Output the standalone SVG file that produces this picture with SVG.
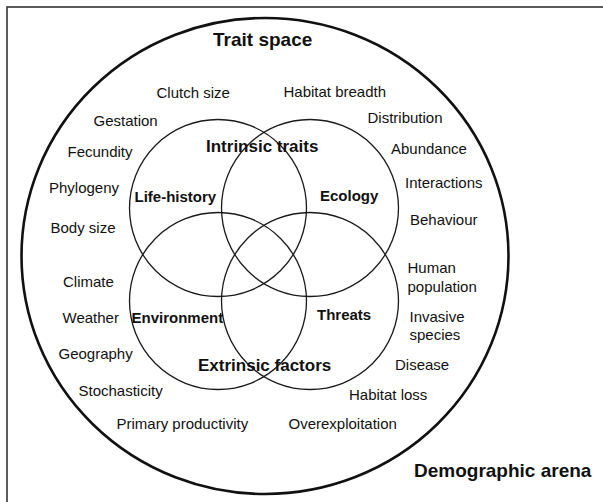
<svg xmlns="http://www.w3.org/2000/svg" width="603" height="502" viewBox="0 0 603 502">
  <style>
    .frame { fill: none; stroke: #333; stroke-width: 1.6; }
    .arena { fill: none; stroke: #111; stroke-width: 2.6; }
    .set { fill: none; stroke: #1a1a1a; stroke-width: 1.3; }
    text { font-family: "Liberation Sans", Arial, Helvetica, sans-serif; fill: #111; }
    .item { font-size: 15px; }
    .set-label { font-size: 15px; font-weight: bold; }
    .group-label { font-size: 17px; font-weight: bold; }
    .title { font-size: 19px; font-weight: bold; }
  </style>

  <rect width="603" height="502" fill="#fff"/>

  <!-- outer frame: the demographic arena -->
  <g id="demographic-arena">
    <rect class="frame" x="7" y="7" width="640" height="540"/>
    <text class="title" x="414" y="477">Demographic arena</text>
  </g>

  <!-- trait space -->
  <g id="trait-space">
    <ellipse class="arena" cx="265" cy="256" rx="243.5" ry="238"/>
    <text class="title" x="213" y="45.5">Trait space</text>
  </g>

  <!-- four overlapping trait sets -->
  <g id="life-history">
    <circle class="set" cx="218" cy="208" r="88.5"/>
    <text class="set-label" x="134.5" y="202">Life-history</text>
  </g>
  <g id="ecology">
    <circle class="set" cx="310" cy="208" r="88.5"/>
    <text class="set-label" x="320" y="201">Ecology</text>
  </g>
  <g id="environment">
    <circle class="set" cx="218" cy="301" r="88.5"/>
    <text class="set-label" x="131.5" y="323">Environment</text>
  </g>
  <g id="threats">
    <circle class="set" cx="310" cy="301" r="88.5"/>
    <text class="set-label" x="317" y="319.5">Threats</text>
  </g>

  <g id="intrinsic-traits">
    <text class="group-label" x="206" y="151.5">Intrinsic traits</text>
  </g>
  <g id="extrinsic-factors">
    <text class="group-label" x="198" y="371">Extrinsic factors</text>
  </g>

  <!-- example traits -->
  <g id="life-history-items" class="item">
    <text class="item" x="156.5" y="98">Clutch size</text>
    <text class="item" x="93.5" y="125.5">Gestation</text>
    <text class="item" x="67.5" y="156.5">Fecundity</text>
    <text class="item" x="49" y="192.5">Phylogeny</text>
    <text class="item" x="50.5" y="232.5">Body size</text>
  </g>
  <g id="ecology-items">
    <text class="item" x="283.5" y="97">Habitat breadth</text>
    <text class="item" x="367.5" y="122.5">Distribution</text>
    <text class="item" x="391" y="154">Abundance</text>
    <text class="item" x="405" y="188">Interactions</text>
    <text class="item" x="410" y="224.5">Behaviour</text>
  </g>
  <g id="environment-items">
    <text class="item" x="63" y="286.5">Climate</text>
    <text class="item" x="62.5" y="323">Weather</text>
    <text class="item" x="58.5" y="359">Geography</text>
    <text class="item" x="78.5" y="395.5">Stochasticity</text>
    <text class="item" x="116.5" y="429">Primary productivity</text>
  </g>
  <g id="threat-items">
    <text class="item" x="407.5" y="273">Human</text>
    <text class="item" x="407.5" y="291.5">population</text>
    <text class="item" x="409.5" y="321.5">Invasive</text>
    <text class="item" x="409.5" y="340">species</text>
    <text class="item" x="395" y="370">Disease</text>
    <text class="item" x="349" y="400">Habitat loss</text>
    <text class="item" x="288.5" y="428.5">Overexploitation</text>
  </g>
</svg>
